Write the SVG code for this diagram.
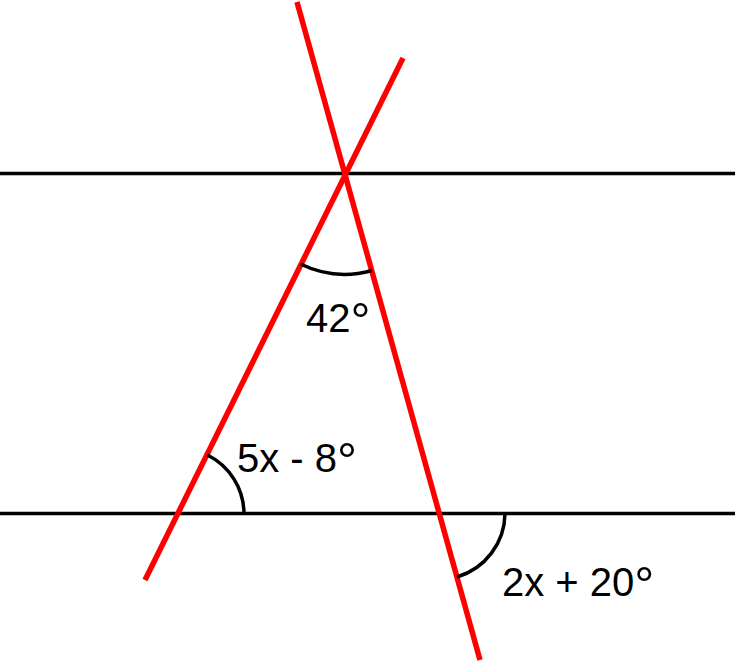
<svg xmlns="http://www.w3.org/2000/svg" width="735" height="663" viewBox="0 0 735 663">
<style>
.h{stroke:#000;stroke-width:3.5;fill:none}
.r{stroke:#ff0000;stroke-width:5.5;fill:none}
.a{stroke:#000;stroke-width:3.5;fill:none}
.t{font-family:"Liberation Sans",Arial,sans-serif;font-size:40px;fill:#000}
.d{font-size:50px}
</style>
<rect width="735" height="663" fill="#fff"/>
<g id="connectors">
<line class="h" x1="0" y1="173.5" x2="735" y2="173.5"/>
<line class="h" x1="0" y1="513.5" x2="735" y2="513.5"/>
<line class="r" x1="297" y1="2" x2="480" y2="660"/>
<line class="r" x1="403" y1="58" x2="145" y2="580"/>
</g>
<g id="angle-top">
<path class="a" d="M300.5,264 A101,101 0 0 0 372,270.5"/>
<text class="t" x="306" y="332">42<tspan class="d" dy="6">°</tspan></text>
</g>
<g id="angle-left">
<path class="a" d="M207.5,455 A66,66 0 0 1 244,513.5"/>
<text class="t" x="237" y="472">5x - 8<tspan class="d" dy="6">°</tspan></text>
</g>
<g id="angle-right">
<path class="a" d="M505,513.5 A67,67 0 0 1 457,577"/>
<text class="t" x="502" y="596">2x + 20<tspan class="d" dy="6">°</tspan></text>
</g>
</svg>
